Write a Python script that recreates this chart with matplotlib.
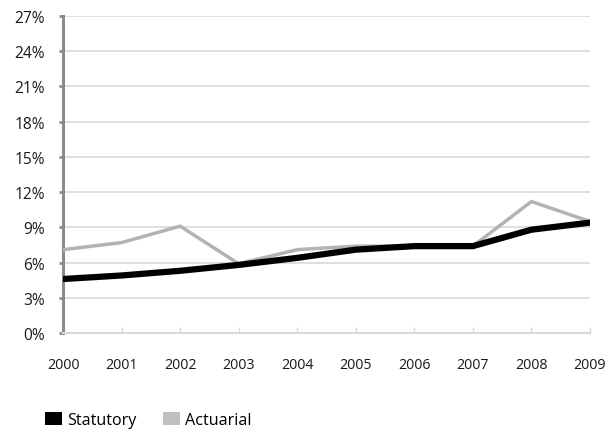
import matplotlib
matplotlib.use("Agg")
import matplotlib.pyplot as plt
from matplotlib.patches import Patch

years = ["2000", "2001", "2002", "2003", "2004", "2005", "2006", "2007", "2008", "2009"]
statutory = [4.6, 4.9, 5.3, 5.8, 6.4, 7.1, 7.4, 7.4, 8.8, 9.4]
actuarial = [7.1, 7.7, 9.1, 5.9, 7.1, 7.4, 7.4, 7.4, 11.2, 9.5]
yticks = [0, 3, 6, 9, 12, 15, 18, 21, 24, 27]

plt.rcParams['font.family'] = ['Open Sans', 'DejaVu Sans']

fig = plt.figure(figsize=(6.07, 4.31), dpi=100)
ax = fig.add_axes([0.1038, 0.225, 0.972 - 0.1038, 0.9606 - 0.225])

x = list(range(len(years)))
ax.plot(x, actuarial, color="#b3b3b3", lw=2.5, solid_joinstyle="miter", zorder=3)
ax.plot(x, statutory, color="#000000", lw=4.5, solid_joinstyle="miter", zorder=4)

ax.set_xlim(0, len(years) - 1)
ax.set_ylim(0, 27)
ax.set_yticks(yticks)
ax.set_yticklabels([f"{v}%" for v in yticks], fontsize=11.2, color="#1a1a1a")
ax.set_xticks(x)
ax.set_xticklabels(years, fontsize=10.3, color="#1a1a1a")

for v in yticks[1:]:
    ax.axhline(v, color="#d9d9d9", lw=1.2, zorder=1)

for s in ["top", "right"]:
    ax.spines[s].set_visible(False)
ax.spines["left"].set_color("#8c8c8c")
ax.spines["left"].set_linewidth(2.2)
ax.spines["bottom"].set_color("#d9d9d9")
ax.spines["bottom"].set_linewidth(1.5)

ax.tick_params(axis="y", direction="out", length=3, width=2, color="#8c8c8c", pad=10)
ax.tick_params(axis="x", direction="in", length=4, width=1, color="#d9d9d9", pad=17)

handles = [Patch(facecolor="#000000", edgecolor="none", label="Statutory"),
           Patch(facecolor="#c0c0c0", edgecolor="none", label="Actuarial")]
fig.legend(handles=handles, loc="center left", bbox_to_anchor=(0.074, 1 - 421 / 431), ncol=2,
           frameon=False, fontsize=11.6, handlelength=1.05, handleheight=0.8,
           handletextpad=0.35, columnspacing=1.6, borderpad=0, borderaxespad=0)

fig.savefig("out.png", dpi=100)
